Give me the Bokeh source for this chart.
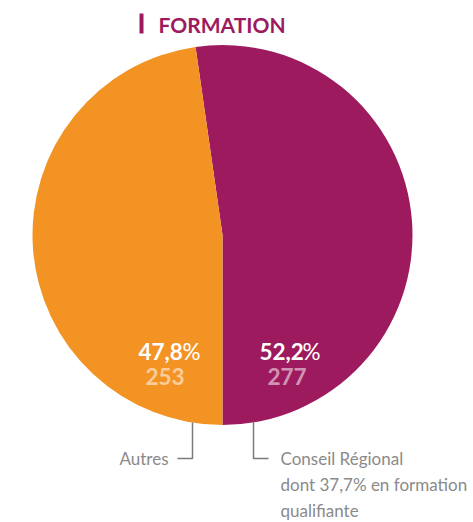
import math
from bokeh.plotting import figure
from bokeh.models import Range1d, ColumnDataSource
from bokeh.core.properties import value
from bokeh.embed import file_html
from bokeh.resources import INLINE

# ---- data ----
categories = ["Conseil Régional", "Autres"]
counts = [277, 253]
pct_labels = ["52,2", "47,8"]
count_labels = ["277", "253"]
title = "FORMATION"
label_lines_cr = ["Conseil Régional", "dont 37,7% en formation", "qualifiante"]
label_autres = "Autres"

MAGENTA = "#9E1A5E"
ORANGE = "#F39324"
GREY = "#8A8A8A"
colors = [MAGENTA, ORANGE]

W, H = 473, 522
TEXT_DY = 7  # compensation for text baseline rendering

def py(ypx):
    # picture pixel y -> data y
    return H - ypx

def ty(ypx):
    return py(ypx - TEXT_DY)

p = figure(width=W, height=H, output_backend="svg", toolbar_location=None,
           x_range=Range1d(0, W), y_range=Range1d(0, H),
           x_axis_location=None, y_axis_location=None,
           min_border=0, outline_line_color=None)
p.grid.visible = False
p.background_fill_color = "white"
p.border_fill_color = "white"

# ---- pie ----
cx, cy, r = 222, py(234.5), 190
total = sum(counts)
starts, ends = [], []
a = -math.pi / 2
for c in counts:
    starts.append(a)
    a += 2 * math.pi * c / total
    ends.append(a)
src = ColumnDataSource(dict(cat=categories, start=starts, end=ends, color=colors))
p.wedge(x=cx, y=cy, radius=r, start_angle="start", end_angle="end",
        fill_color="color", line_color=None, source=src)

# ---- title ----
p.quad(left=[139], right=[143], top=[py(13)], bottom=[py(33)], fill_color=MAGENTA, line_color=None)
p.text(x=[158], y=[ty(30.5)], text=[title], text_font=value("Lato"), text_font_style="bold",
       text_font_size="21px", text_color=MAGENTA, text_baseline="alphabetic", text_align="left")

# ---- value labels inside slices ----
pct_x = {"Conseil Régional": 259, "Autres": 138}
pctsign_x = {"Conseil Régional": 302, "Autres": 182}
cnt_x = {"Conseil Régional": 267, "Autres": 145}
for cat, pl, cl in zip(categories, pct_labels, count_labels):
    p.text(x=[pct_x[cat]], y=[ty(358)], text=[pl], text_font=value("Lato"), text_font_style="bold",
           text_font_size="22.5px", text_color="white", text_baseline="alphabetic")
    p.text(x=[pctsign_x[cat]], y=[ty(358)], text=["%"], text_font=value("Lato"),
           text_font_size="22.5px", text_color="white", text_baseline="alphabetic")
    p.text(x=[cnt_x[cat]], y=[ty(383)], text=[cl], text_font=value("Lato"), text_font_style="bold",
           text_font_size="22.5px", text_color="white", text_alpha=0.55, text_baseline="alphabetic")

# ---- leader lines ----
LINE = "#7A7A7A"
p.line(x=[192, 192, 177], y=[py(422), py(458), py(458)], line_color=LINE, line_width=1.5)
p.line(x=[253, 253, 268], y=[py(421), py(458), py(458)], line_color=LINE, line_width=1.5)

# ---- outside labels ----
p.text(x=[168], y=[ty(465)], text=[label_autres], text_font=value("Lato"), text_font_size="17px",
       text_color=GREY, text_align="right", text_baseline="alphabetic")
for i, line in enumerate(label_lines_cr):
    p.text(x=[280], y=[ty(465 + 26 * i)], text=[line], text_font=value("Lato"), text_font_size="17px",
           text_color=GREY, text_align="left", text_baseline="alphabetic")

open("out.html", "w").write(file_html(p, INLINE))
